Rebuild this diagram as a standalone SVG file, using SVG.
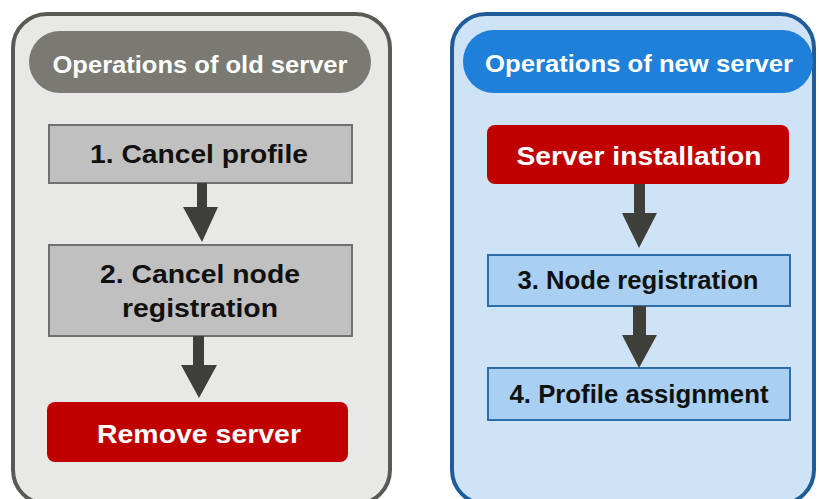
<svg xmlns="http://www.w3.org/2000/svg" width="819" height="499" viewBox="0 0 819 499">
<defs>
<style>
.txt{font-family:"Liberation Sans",Arial,sans-serif;font-weight:bold;text-anchor:middle}
.hdr{font-size:24px;fill:#ffffff}
.lbl{font-size:25px;fill:#111111}
.wlbl{font-size:26px;fill:#ffffff}
.gbox{fill:#c0c0c0;stroke:#707070;stroke-width:2}
.bbox{fill:#a9d0f2;stroke:#2e6ea6;stroke-width:2}
.rbox{fill:#c00000}
.arr{fill:#3f3f3a}
</style>
</defs>
<rect width="819" height="499" fill="#ffffff"/>
<g id="panel-old">
<rect x="13" y="14" width="377" height="490" rx="34" fill="#e8e8e6" stroke="#5a5a55" stroke-width="4"/>
<rect x="29" y="31" width="342" height="62" rx="31" fill="#7a7a72"/>
<text class="txt hdr" x="200" y="73" textLength="295" lengthAdjust="spacingAndGlyphs">Operations of old server</text>
</g>
<g id="panel-new">
<rect x="452" y="14" width="362" height="490" rx="34" fill="#cfe3f6" stroke="#1f5c99" stroke-width="4"/>
<rect x="463" y="30" width="350" height="63" rx="31" fill="#1e80d8"/>
<text class="txt hdr" x="639" y="72" textLength="308" lengthAdjust="spacingAndGlyphs">Operations of new server</text>
</g>
<g id="n1">
<rect class="gbox" x="49" y="125" width="303" height="58"/>
<text class="txt lbl" x="199" y="163" textLength="218" lengthAdjust="spacingAndGlyphs">1. Cancel profile</text>
</g>
<g id="n2">
<rect class="gbox" x="49" y="245" width="303" height="91"/>
<text class="txt lbl" x="200" y="283" textLength="200" lengthAdjust="spacingAndGlyphs">2. Cancel node</text>
<text class="txt lbl" x="200" y="317" textLength="156" lengthAdjust="spacingAndGlyphs">registration</text>
</g>
<g id="n-remove">
<rect class="rbox" x="47" y="402" width="301" height="60" rx="8"/>
<text class="txt wlbl" x="199" y="443" textLength="204" lengthAdjust="spacingAndGlyphs">Remove server</text>
</g>
<g id="n-install">
<rect class="rbox" x="487" y="125" width="302" height="59" rx="8"/>
<text class="txt wlbl" x="639" y="165" textLength="245" lengthAdjust="spacingAndGlyphs">Server installation</text>
</g>
<g id="n3">
<rect class="bbox" x="488" y="255" width="302" height="51"/>
<text class="txt lbl" x="638" y="289" textLength="241" lengthAdjust="spacingAndGlyphs">3. Node registration</text>
</g>
<g id="n4">
<rect class="bbox" x="488" y="368" width="302" height="52"/>
<text class="txt lbl" x="639" y="403" textLength="259" lengthAdjust="spacingAndGlyphs">4. Profile assignment</text>
</g>
<g id="connectors">
<polygon class="arr" points="197,183 207,183 207,207 218,207 202,242 183,207 197,207"/>
<polygon class="arr" points="193,336 204,336 204,365 217,365 199,398 181,365 193,365"/>
<polygon class="arr" points="634,184 645,184 645,213 657,213 639,248 622,213 634,213"/>
<polygon class="arr" points="633,306 646,306 646,335 657,335 639,368 622,335 633,335"/>
</g>
</svg>
